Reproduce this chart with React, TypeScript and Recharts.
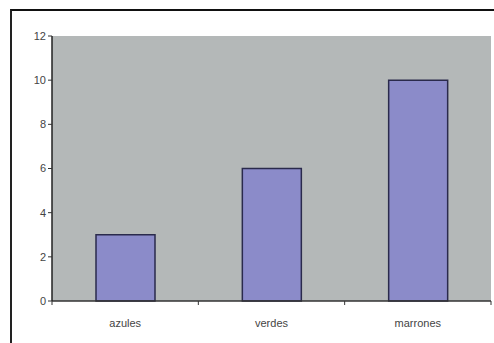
import React from 'react';
import { BarChart, Bar, XAxis, YAxis, CartesianGrid } from 'recharts';

const categories = ['azules', 'verdes', 'marrones'];
const values = [3, 6, 10];
const yTicks = [0, 2, 4, 6, 8, 10, 12];

const data = categories.map((name, i) => ({ name, value: values[i] }));

// category label plus small ticks on the band boundaries (like the old spreadsheet look)
const CategoryTick = ({ x, y, payload, index, visibleTicksCount }: any) => {
  const half = payload.offset || 0;
  const last = index === visibleTicksCount - 1;
  return (
    <g>
      <line x1={x - half} x2={x - half} y1={y} y2={y + 4} stroke="#333" />
      {last && <line x1={x + half} x2={x + half} y1={y} y2={y + 4} stroke="#333" />}
      <text x={x} y={y + 26} textAnchor="middle" fill="#444" fontSize={11}>
        {payload.value}
      </text>
    </g>
  );
};

const App = () => {
  return (
    <div style={{ position: 'absolute', left: 0, top: 0, width: 494, height: 343, background: '#fff', fontFamily: '"Liberation Sans", Arial, sans-serif' }}>
      <div style={{ position: 'absolute', left: 10, top: 9, width: 492, height: 340, borderTop: '2px solid #111', borderLeft: '2px solid #222' }} />
      <div style={{ position: 'absolute', left: 0, top: 0 }}>
        <BarChart width={494} height={343} data={data} margin={{ top: 36, right: 3, left: 0, bottom: 0 }} barSize={59}>
          <CartesianGrid fill="#b4b8b8" horizontal={false} vertical={false} />
          <XAxis
            dataKey="name"
            height={42}
            axisLine={{ stroke: '#333', strokeWidth: 1.5 }}
            tickLine={false}
            tickSize={0}
            tickMargin={0}
            interval={0}
            tick={<CategoryTick />}
          />
          <YAxis
            width={52}
            domain={[0, 12]}
            ticks={yTicks}
            interval={0}
            axisLine={{ stroke: '#222', strokeWidth: 1.5 }}
            tickLine={{ stroke: '#333' }}
            tickSize={4}
            tick={{ fill: '#444', fontSize: 11 }}
          />
          <Bar dataKey="value" fill="#8b8bc9" stroke="#2a2a4c" strokeWidth={1.5} isAnimationActive={false} />
        </BarChart>
      </div>
    </div>
  );
};

export default App;
